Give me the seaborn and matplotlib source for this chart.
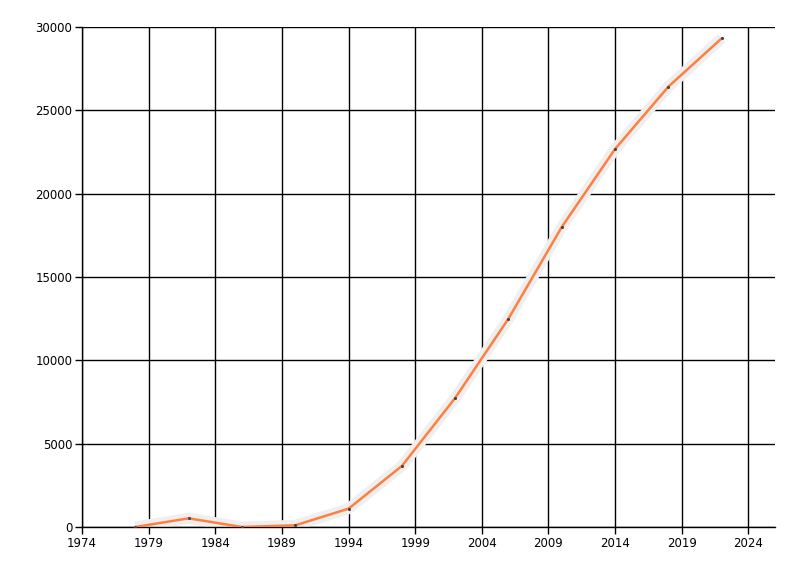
import matplotlib
matplotlib.use("Agg")
import matplotlib.pyplot as plt
import seaborn as sns
import pandas as pd

years = [1978, 1982, 1986, 1990, 1994, 1998, 2002, 2006, 2010, 2014, 2018, 2022]
values = [0, 520, 0, 100, 1100, 3660, 7740, 12500, 18000, 22680, 26420, 29320]

df = pd.DataFrame({"year": years, "value": values})

sns.set_style("white")
plt.rcParams['font.family'] = ['DejaVu Sans']

fig = plt.figure(figsize=(8, 5.76), dpi=100)
ax = fig.add_axes([82 / 800, 1 - 527 / 576, (775 - 82) / 800, 500 / 576])

# grey shadow under the line
sns.lineplot(data=df, x="year", y="value", ax=ax, color="#efefef",
             linewidth=8, solid_capstyle="butt", zorder=2)
sns.lineplot(data=df, x="year", y="value", ax=ax, color="#ff7f3f",
             linewidth=1.8, zorder=3)
sns.scatterplot(data=df, x="year", y="value", ax=ax, color="#444444",
                s=5, linewidth=0, zorder=4)

ax.set_xlim(1974, 2026)
ax.set_ylim(0, 30000)
ax.set_xticks(range(1974, 2025, 5))
ax.set_yticks(range(0, 30001, 5000))
ax.grid(True, color="black", linewidth=1)
ax.set_axisbelow(True)
ax.set_xlabel("")
ax.set_ylabel("")

for side in ["top", "right"]:
    ax.spines[side].set_visible(False)
for side in ["left", "bottom"]:
    ax.spines[side].set_color("black")
    ax.spines[side].set_linewidth(1)

ax.tick_params(axis="both", which="major", direction="out", length=5,
               width=1, color="black", labelsize=8.5, labelcolor="black",
               pad=2, bottom=True, left=True)

fig.savefig("out.png", dpi=100)
